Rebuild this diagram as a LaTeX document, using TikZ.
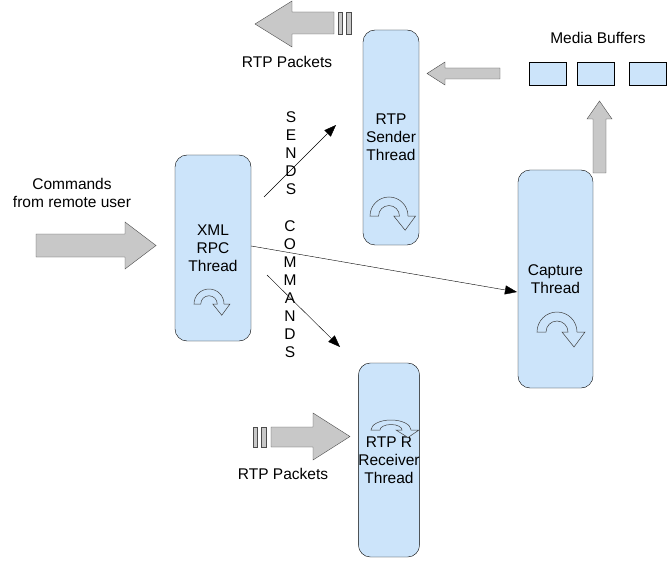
\documentclass[tikz,border=0pt]{standalone}
\usepackage{fontspec}
\setmainfont{Liberation Sans}
\usetikzlibrary{arrows.meta}
\definecolor{boxblue}{RGB}{204,228,250}
\definecolor{arrowgray}{RGB}{200,200,200}
\tikzset{
    thread/.style={draw, fill=boxblue, rounded corners=12pt, align=center,
                   font=\fontsize{15.5}{18}\selectfont, inner sep=0pt},
    buffer/.style={draw, fill=boxblue, minimum width=37pt, minimum height=23pt},
    blockarrow/.style={draw=black!70, fill=arrowgray},
    label/.style={align=center, font=\fontsize{15.5}{17.5}\selectfont},
    vtext/.style={align=center, font=\fontsize{15.5}{18}\selectfont, inner sep=0pt},
    msg/.style={-{Triangle[length=12pt,width=9pt]}, thin},
    spin/.pic={
        \filldraw[fill=boxblue, draw=black!75, line width=0.5pt]
            (-1,0) arc[start angle=180, end angle=360, radius=1] -- (1.4,0)
            -- (0.85,0.75) -- (0.25,0) -- (0.55,0)
            arc[start angle=360, end angle=180, radius=0.55] -- cycle;
    },
}
\begin{document}
\begin{tikzpicture}[x=1pt, y=-1pt]
    \useasboundingbox (0,0) rectangle (668,561);

    \node[thread, minimum width=76pt, minimum height=186pt] (xml) at (213,248) {XML\\RPC\\Thread};
    \node[thread, minimum width=56pt, minimum height=215pt] (sender) at (391,137.5) {RTP\\Sender\\Thread};
    \node[thread, minimum width=75pt, minimum height=218pt] (capture) at (555.5,279) {Capture\\Thread};
    \node[thread, minimum width=60pt, minimum height=194pt] (receiver) at (389,460) {RTP R\\Receiver\\Thread};

    \pic[scale=15] at (209,304) {spin};
    \pic[scale=19] at (389,216) {spin};
    \pic[scale=20] at (557,332) {spin};
    \pic[xscale=20, yscale=10] at (391,430) {spin};

    \node[buffer] (buf1) at (547.5,73.5) {};
    \node[buffer] (buf2) at (596,73.5) {};
    \node[buffer] (buf3) at (647.5,73.5) {};
    \node[label] (buflabel) at (598,38) {Media Buffers};

    \filldraw[blockarrow] (255,24) -- (292,1) -- (292,12) -- (334,12) -- (334,34)
        -- (292,34) -- (292,47) -- cycle;
    \filldraw[blockarrow] (338,12) rectangle (342,34);
    \filldraw[blockarrow] (346,12) rectangle (351,34);
    \node[label] (outlabel) at (287,62) {RTP Packets};

    \filldraw[blockarrow] (427,73.5) -- (445,62) -- (445,68) -- (500,68) -- (500,79)
        -- (445,79) -- (445,85) -- cycle;
    \filldraw[blockarrow] (599.5,101) -- (612,119) -- (606,119) -- (606,173) -- (593,173)
        -- (593,119) -- (587,119) -- cycle;

    \node[label] (user) at (72,193) {Commands\\from remote user};
    \filldraw[blockarrow] (156,245.5) -- (125,222) -- (125,234) -- (36,234) -- (36,257)
        -- (125,257) -- (125,269) -- cycle;

    \filldraw[blockarrow] (253,427) rectangle (257,447);
    \filldraw[blockarrow] (261,427) rectangle (266,447);
    \filldraw[blockarrow] (350,436.5) -- (313,413) -- (313,427) -- (271,427) -- (271,447)
        -- (313,447) -- (313,460) -- cycle;
    \node[label] (inlabel) at (283,474) {RTP Packets};

    \node[vtext] (sends) at (291,153) {S\\E\\N\\D\\S};
    \node[vtext] (cmds) at (290,289) {C\\O\\M\\M\\A\\N\\D\\S};

    \coordinate (s1) at (264,197);
    \coordinate (s2) at (336,125);
    \coordinate (c1) at (267,275);
    \coordinate (c2) at (340,347);
    \coordinate (x2) at (517,292);
    \draw[msg] (s1) -- (s2);
    \draw[msg] (c1) -- (c2);
    \draw[msg] (xml.east |- 0,246) -- (x2);
\end{tikzpicture}
\end{document}
